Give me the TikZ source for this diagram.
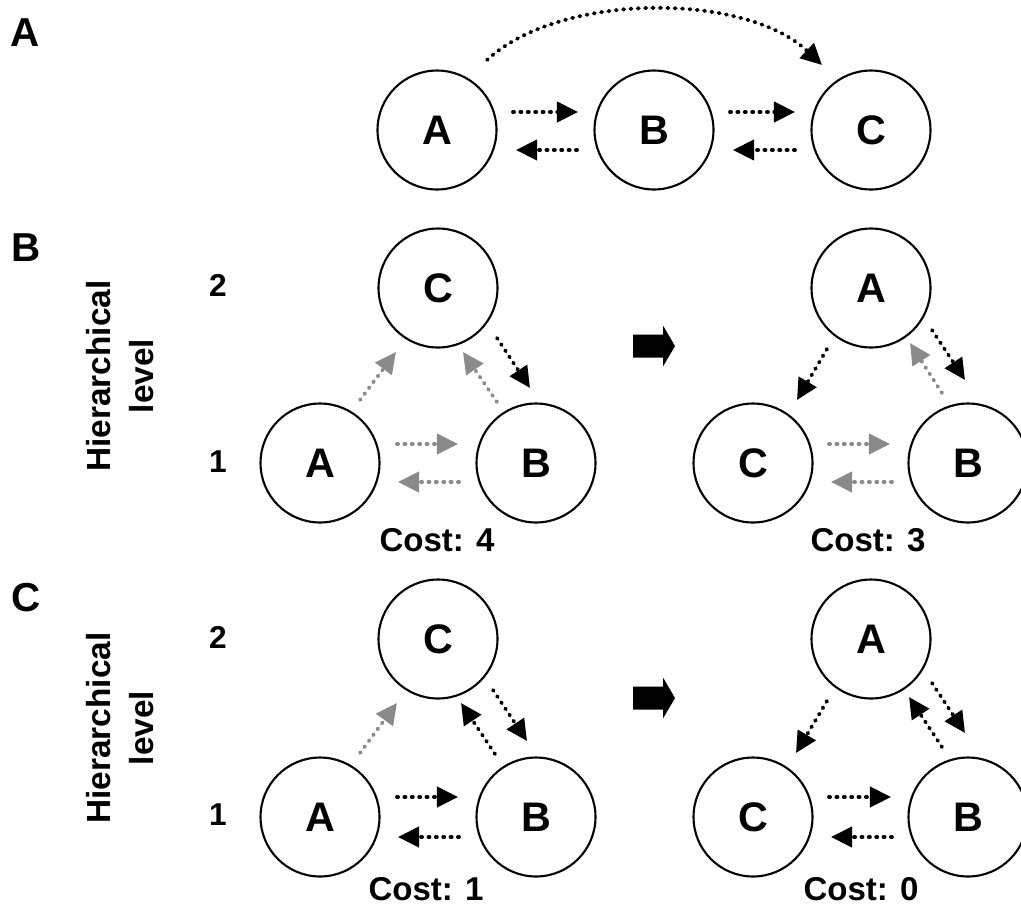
\documentclass[tikz,border=0pt]{standalone}
\usepackage{fontspec}
\setmainfont{Liberation Sans}
\usetikzlibrary{arrows.meta}
\definecolor{arrgray}{HTML}{8A8A8A}
\begin{document}
\begin{tikzpicture}[x=0.02cm,y=-0.02cm,
  nd/.style={circle,draw,line width=1.2pt,minimum size=2.38cm,inner sep=0pt,font=\bfseries\fontsize{23.5}{27}\selectfont},
  panel/.style={font=\bfseries\fontsize{23}{27}\selectfont,inner sep=0pt},
  lvl/.style={font=\bfseries\fontsize{18}{22}\selectfont,inner sep=0pt},
  cost/.style={font=\bfseries\fontsize{18.8}{22}\selectfont,inner sep=0pt},
  hier/.style={rotate=90,align=center,inner sep=0pt,font=\bfseries\fontsize{19}{24.5}\selectfont},
  arr/.style={line width=2.2pt,line cap=round,dash pattern=on 0.6pt off 3.6pt,-{Triangle[length=12pt,width=11.5pt]}},
  blk/.style={arr,black},
  gry/.style={arr,arrgray},
  bigarrow/.style={fill=black}
]
\useasboundingbox (0,0) rectangle (1021,907);

% panel labels
\node[panel] (pA) at (25,33) {A};
\node[panel] (pB) at (26,248) {B};
\node[panel] (pC) at (26,598) {C};

% ---------- Panel A ----------
\node[nd] (tA) at (437,130) {A};
\node[nd] (tB) at (654,130) {B};
\node[nd] (tC) at (871,130) {C};
\draw[blk] ([shift={(76,-18)}]tA.center) -- ([shift={(-76,-18)}]tB.center);
\draw[blk] ([shift={(-77,20)}]tB.center) -- ([shift={(79,20)}]tA.center);
\draw[blk] ([shift={(76,-18)}]tB.center) -- ([shift={(-76,-18)}]tC.center);
\draw[blk] ([shift={(-76,20)}]tC.center) -- ([shift={(79,20)}]tB.center);
\draw[blk] ([shift={(50,-70)}]tA.center) .. controls (560,-8) and (745,-8) .. ([shift={(-49,-65)}]tC.center);

% ---------- Panel B ----------
\node[hier] (hB) at (120,376) {Hierarchical\\level};
\node[lvl] (b2) at (218,285) {2};
\node[lvl] (b1) at (218,462) {1};

\node[nd] (bC) at (438,288) {C};
\node[nd] (bA) at (320,463) {A};
\node[nd] (bB) at (536,463) {B};
\draw[gry] ([shift={(40,-63)}]bA.center) -- ([shift={(-42,64)}]bC.center);
\draw[blk] ([shift={(59,50)}]bC.center) -- ([shift={(-6,-75)}]bB.center);
\draw[gry] ([shift={(-39,-61)}]bB.center) -- ([shift={(25,64)}]bC.center);
\draw[gry] ([shift={(77,-19)}]bA.center) -- ([shift={(-78,-19)}]bB.center);
\draw[gry] ([shift={(-77,19)}]bB.center) -- ([shift={(78,19)}]bA.center);
\node[cost] (costB1) at (437,540) {Cost: 4};

\fill[bigarrow,shift={(654,346)}] (-21,-11.5) -- (9,-11.5) -- (9,-20.5) -- (21,0) -- (9,20.5) -- (9,11.5) -- (-21,11.5) -- cycle;

\node[nd] (rA) at (871,288) {A};
\node[nd] (rC) at (753,463) {C};
\node[nd] (rB) at (968,463) {B};
\draw[blk] ([shift={(-44,61)}]rA.center) -- ([shift={(44,-63)}]rC.center);
\draw[blk] ([shift={(61,42)}]rA.center) -- ([shift={(-3,-83)}]rB.center);
\draw[gry] ([shift={(-26,-70)}]rB.center) -- ([shift={(39,55)}]rA.center);
\draw[gry] ([shift={(76,-19)}]rC.center) -- ([shift={(-78,-19)}]rB.center);
\draw[gry] ([shift={(-76,19)}]rB.center) -- ([shift={(78,19)}]rC.center);
\node[cost] (costB2) at (868,540) {Cost: 3};

% ---------- Panel C ----------
\node[hier] (hC) at (120,728) {Hierarchical\\level};
\node[lvl] (c2) at (218,637) {2};
\node[lvl] (c1) at (218,815) {1};

\node[nd] (cC) at (438,639) {C};
\node[nd] (cA) at (320,817) {A};
\node[nd] (cB) at (536,817) {B};
\draw[gry] ([shift={(40,-64)}]cA.center) -- ([shift={(-41,64)}]cC.center);
\draw[blk] ([shift={(55,51)}]cC.center) -- ([shift={(-9,-76)}]cB.center);
\draw[blk] ([shift={(-41,-63)}]cB.center) -- ([shift={(23,64)}]cC.center);
\draw[blk] ([shift={(77,-20)}]cA.center) -- ([shift={(-78,-20)}]cB.center);
\draw[blk] ([shift={(-77,20)}]cB.center) -- ([shift={(78,20)}]cA.center);
\node[cost] (costC1) at (426,889) {Cost: 1};

\fill[bigarrow,shift={(654,698)}] (-21,-11.5) -- (9,-11.5) -- (9,-20.5) -- (21,0) -- (9,20.5) -- (9,11.5) -- (-21,11.5) -- cycle;

\node[nd] (dA) at (871,639) {A};
\node[nd] (dC) at (753,817) {C};
\node[nd] (dB) at (968,817) {B};
\draw[blk] ([shift={(-44,62)}]dA.center) -- ([shift={(43,-64)}]dC.center);
\draw[blk] ([shift={(61,44)}]dA.center) -- ([shift={(-3,-84)}]dB.center);
\draw[blk] ([shift={(-26,-70)}]dB.center) -- ([shift={(38,58)}]dA.center);
\draw[blk] ([shift={(76,-20)}]dC.center) -- ([shift={(-77,-20)}]dB.center);
\draw[blk] ([shift={(-76,20)}]dB.center) -- ([shift={(78,20)}]dC.center);
\node[cost] (costC2) at (861,889) {Cost: 0};
\end{tikzpicture}
\end{document}
